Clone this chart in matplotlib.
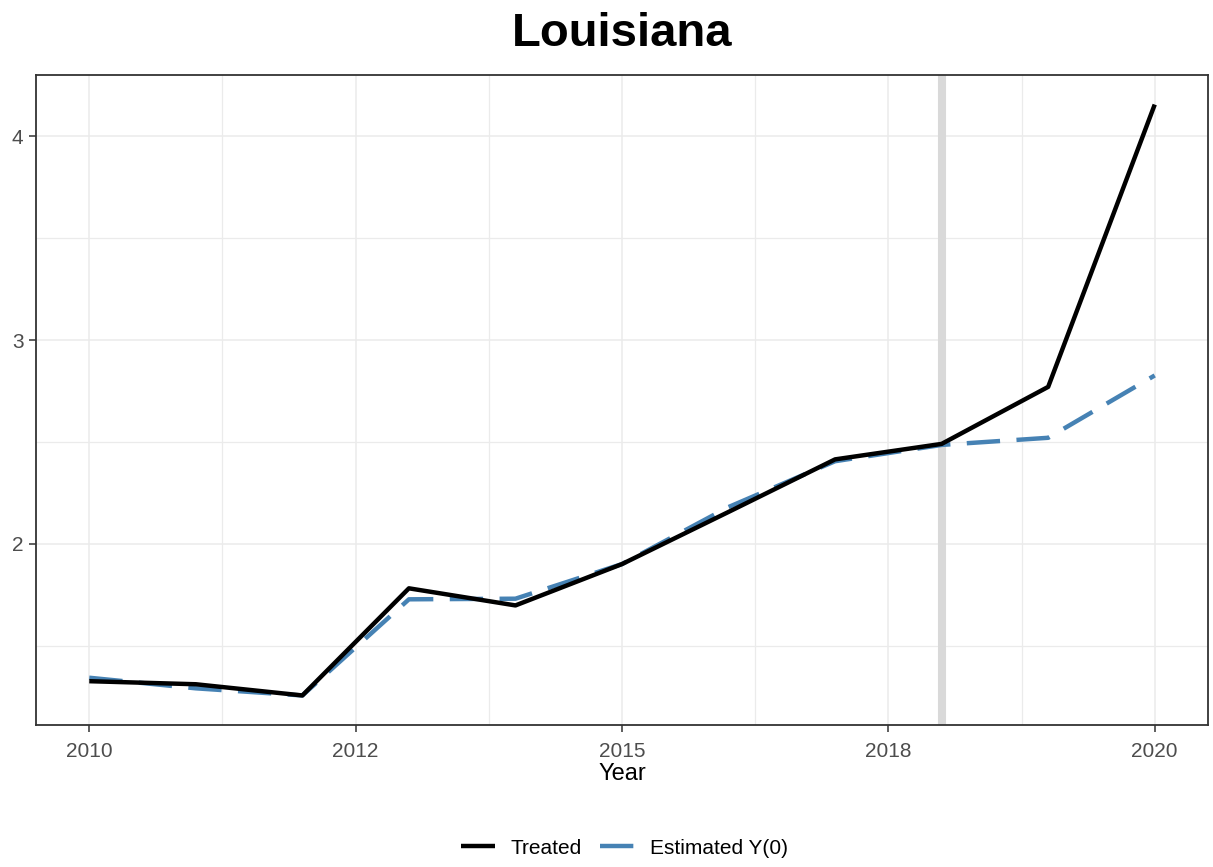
import matplotlib
matplotlib.use("Agg")
import matplotlib.pyplot as plt
from matplotlib.ticker import FixedLocator, FuncFormatter
import numpy as np

plt.rcParams['font.family'] = ['Liberation Sans', 'DejaVu Sans']

# Annual series for the treated unit and its counterfactual estimate
years = [2010, 2011, 2012, 2013, 2014, 2015, 2016, 2017, 2018, 2019, 2020]
treated = [1.325, 1.31, 1.255, 1.781, 1.697, 1.90, 2.156, 2.414, 2.49, 2.77, 4.156]
estimated_y0 = [1.342, 1.29, 1.255, 1.727, 1.73, 1.90, 2.18, 2.405, 2.485, 2.52, 2.826]
treatment_year = 2018

title = "Louisiana"
x_label = "Year"
series_labels = ["Treated", "Estimated Y(0)"]

x_breaks = [2010, 2012.5, 2015, 2017.5, 2020]
x_minor = [2011.25, 2013.75, 2016.25, 2018.75]
y_breaks = [2, 3, 4]
y_minor = [1.5, 2.5, 3.5]

W, H, DPI = 1213, 867, 100
fig = plt.figure(figsize=(W / DPI, H / DPI), dpi=DPI)
ax = fig.add_axes([36 / W, (H - 725) / H, (1208 - 36) / W, (725 - 75) / H])

# Treatment onset marker
ax.axvline(treatment_year, color="#D9D9D9", lw=5.8, zorder=1.5)

line_t, = ax.plot(years, treated, color="black", lw=3.2, zorder=3,
                  solid_capstyle="butt", solid_joinstyle="round",
                  label=series_labels[0])
line_e, = ax.plot(years, estimated_y0, color="#4682B4", lw=3.2, zorder=2.5,
                  dashes=(7.5, 3.7), dash_capstyle="butt",
                  label=series_labels[1])

# Axis limits with 5% expansion, like ggplot's continuous scales
xmin, xmax = min(years), max(years)
xpad = 0.05 * (xmax - xmin)
ax.set_xlim(xmin - xpad, xmax + xpad)
allv = np.array(treated + estimated_y0)
ypad = 0.05 * (allv.max() - allv.min())
ax.set_ylim(allv.min() - ypad, allv.max() + ypad)

ax.xaxis.set_major_locator(FixedLocator(x_breaks))
ax.xaxis.set_minor_locator(FixedLocator(x_minor))
ax.xaxis.set_major_formatter(FuncFormatter(lambda v, p: "{:.0f}".format(v)))
ax.yaxis.set_major_locator(FixedLocator(y_breaks))
ax.yaxis.set_minor_locator(FixedLocator(y_minor))
ax.yaxis.set_major_formatter(FuncFormatter(lambda v, p: "{:g}".format(v)))

ax.grid(True, which="major", color="#EBEBEB", lw=1.1, zorder=0)
ax.grid(True, which="minor", color="#EBEBEB", lw=0.9, zorder=0)
ax.set_axisbelow(True)

for s in ax.spines.values():
    s.set_color("#333333")
    s.set_linewidth(1.3)

ax.tick_params(which="major", length=5, width=1.1, color="#333333",
               labelcolor="#4D4D4D", labelsize=15)
ax.tick_params(axis="x", which="major", pad=7)
ax.tick_params(axis="y", which="major", pad=4)
ax.tick_params(which="minor", length=0)

ax.set_xlabel(x_label, fontsize=17, color="black", labelpad=2)
ax.set_title(title, fontsize=34, fontweight="bold", pad=21)

fig.legend(handles=[line_t, line_e], labels=series_labels,
           loc="center", bbox_to_anchor=(624.5 / W, 1 - 848 / H),
           ncol=2, frameon=False, fontsize=15, handlelength=1.63,
           handletextpad=0.77, columnspacing=0.87)

fig.savefig("out.png", dpi=DPI)
